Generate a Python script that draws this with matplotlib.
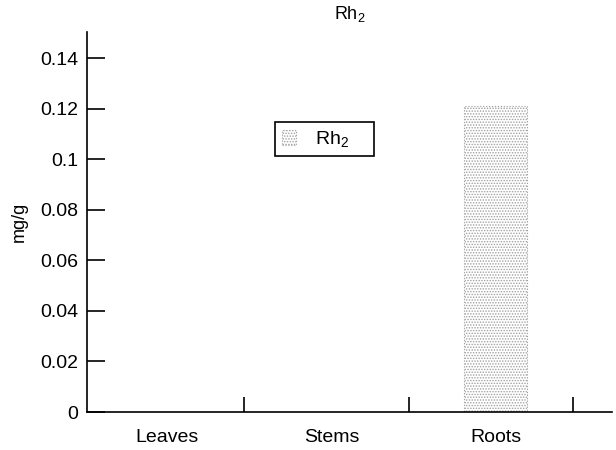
import matplotlib.pyplot as plt
import matplotlib as mpl
from matplotlib.ticker import FixedLocator

mpl.rcParams['font.family'] = ['Liberation Sans', 'DejaVu Sans']
mpl.rcParams['mathtext.fontset'] = 'custom'
mpl.rcParams['mathtext.rm'] = 'Liberation Sans'

# ginsenoside Rh2 content by plant part
parts = ['Leaves', 'Stems', 'Roots']
rh2 = [0.0, 0.0, 0.121]
yticks = [0, 0.02, 0.04, 0.06, 0.08, 0.1, 0.12, 0.14]
ytick_labels = ['0', '0.02', '0.04', '0.06', '0.08', '0.1', '0.12', '0.14']

fig = plt.figure(figsize=(6.16, 4.5), dpi=100)
ax = fig.add_axes([0.141, 0.0844, 0.8525, 0.8446])

pos = list(range(len(parts)))
mpl.rcParams['hatch.color'] = '#808080'
mpl.rcParams['hatch.linewidth'] = 0.7
bars = ax.bar(pos, rh2, width=0.38, color='white', edgecolor='#a0a0a0',
              linewidth=0.8, linestyle=':', hatch='......',
              label='Rh$_\\mathrm{2}$    ')

ax.set_xlim(-0.49, 2.71)
ax.set_ylim(0, 0.1504)
ax.set_xticks(pos)
ax.set_xticklabels(parts, fontsize=14)
ax.xaxis.set_minor_locator(FixedLocator([p + 0.47 for p in pos]))
ax.tick_params(axis='x', which='major', length=0, pad=12)
ax.tick_params(axis='x', which='minor', direction='in', length=11, width=1.2)
ax.set_yticks(yticks)
ax.set_yticklabels(ytick_labels, fontsize=14)
ax.tick_params(axis='y', direction='in', length=13, width=1.2, pad=6)

for s in ['top', 'right']:
    ax.spines[s].set_visible(False)
for s in ['left', 'bottom']:
    ax.spines[s].set_linewidth(1.2)

ax.set_ylabel('mg/g', fontsize=13, labelpad=9)
ax.set_title('Rh$_\\mathrm{2}$', fontsize=13, pad=9)

leg = ax.legend(loc='upper left', bbox_to_anchor=(0.359, 0.762), fontsize=14,
                fancybox=False, edgecolor='black', framealpha=1,
                handlelength=0.7, handleheight=0.8, borderpad=0.35,
                handletextpad=1.0, borderaxespad=0)
leg.get_frame().set_linewidth(1.2)

plt.savefig('out.png', dpi=100)
